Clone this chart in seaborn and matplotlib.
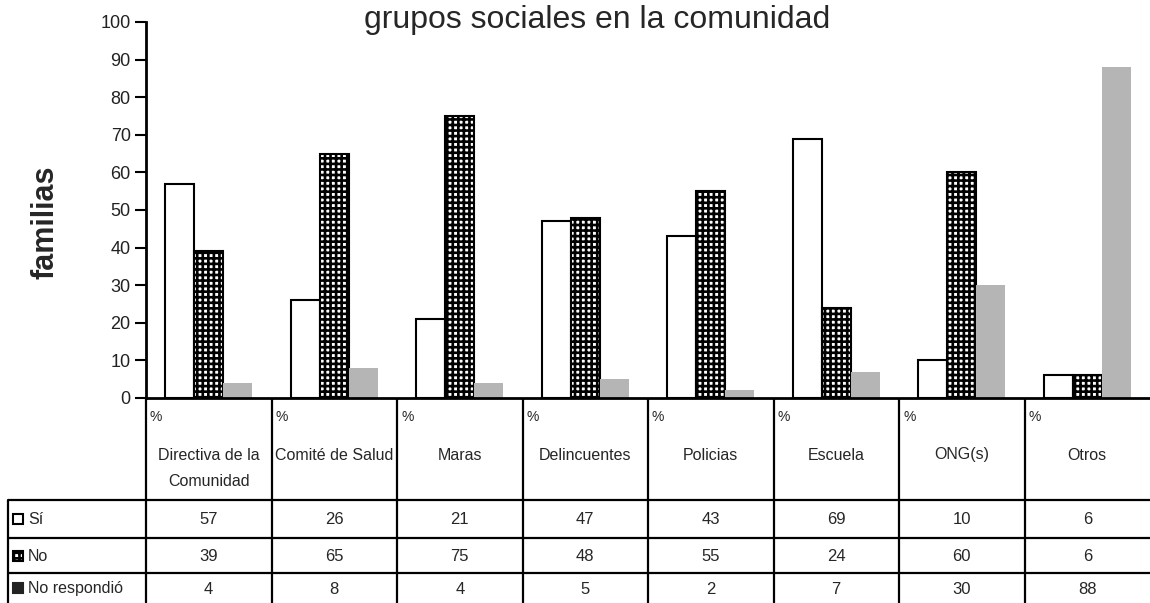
import matplotlib
matplotlib.use("Agg")
import numpy as np
import pandas as pd
import matplotlib.pyplot as plt
import seaborn as sns
from matplotlib.patches import Rectangle

# datos (porcentaje de familias)
grupos = ["Directiva de la\nComunidad", "Comité de Salud", "Maras", "Delincuentes",
          "Policias", "Escuela", "ONG(s)", "Otros"]
respuestas = ["Sí", "No", "No respondió"]
si = [57, 26, 21, 47, 43, 69, 10, 6]
no = [39, 65, 75, 48, 55, 24, 60, 6]
no_resp = [4, 8, 4, 5, 2, 7, 30, 88]
yticks = list(range(0, 101, 10))

df = pd.DataFrame({
    "grupo": grupos * 3,
    "respuesta": np.repeat(respuestas, len(grupos)),
    "pct": si + no + no_resp,
})

sns.set_style("white")
plt.rcParams["font.family"] = ["Liberation Sans", "DejaVu Sans"]
plt.rcParams["hatch.linewidth"] = 1.9

W, H = 1150, 603
fig = plt.figure(figsize=(W / 100, H / 100), dpi=100)
x0, y_top, y_base = 146, 22, 398
ax = fig.add_axes([x0 / W, 1 - y_base / H, (W - x0) / W, (y_base - y_top) / H])
ax.patch.set_alpha(0)

gris = "#b5b5b5"
sns.barplot(data=df, x="grupo", y="pct", hue="respuesta", order=grupos,
            hue_order=respuestas, palette=["white", "white", gris],
            width=0.69, gap=0, saturation=1, legend=False, ax=ax)

# estilos de cada serie
for bar in ax.containers[0]:
    bar.set_edgecolor("black")
    bar.set_linewidth(1.5)
for bar in ax.containers[1]:
    bar.set_edgecolor("black")
    bar.set_linewidth(1.5)
    bar.set_hatch("+++")
for bar in ax.containers[2]:
    bar.set_edgecolor("none")
    bar.set_linewidth(0)

ax.set_ylim(0, 100)
ax.set_xlim(-0.5, len(grupos) - 0.5)
ax.set_yticks(yticks)
ax.set_xticks([])
ax.set_xlabel("")
ax.set_ylabel("")
for s in ["top", "right"]:
    ax.spines[s].set_visible(False)
for s in ["left", "bottom"]:
    ax.spines[s].set_linewidth(2)
    ax.spines[s].set_color("black")
ax.tick_params(axis="y", left=True, direction="out", length=8, width=1.5,
               labelsize=13, pad=3, colors="black")
for t in ax.get_yticklabels():
    t.set_color("#222222")

fig.text(597 / W, 1 - 28 / H, "grupos sociales en la comunidad",
         ha="center", va="baseline", fontsize=23)
fig.text(45 / W, 1 - 222 / H, "familias", rotation=90, ha="center", va="center",
         fontsize=22, fontweight="bold")

# --- tabla de datos ---
axt = fig.add_axes([0, 0, 1, (H - y_base) / H])
axt.set_xlim(0, W)
axt.set_ylim(H, y_base)
axt.axis("off")

fig.canvas.draw()
bordes = [ax.transData.transform((i - 0.5, 0))[0] for i in range(len(grupos) + 1)]
bordes = [fig.transFigure.inverted().transform((b, 0))[0] * W for b in bordes]

lw = 1.6
filas_y = [500, 538, 573, H]
x_izq = 8
for yy in filas_y[:-1]:
    axt.plot([x_izq, W], [yy, yy], color="black", lw=lw, solid_capstyle="butt")
axt.plot([x_izq, x_izq], [filas_y[0], H], color="black", lw=lw)
for b in bordes[:-1]:
    axt.plot([b, b], [y_base, H], color="black", lw=lw)

for i, g in enumerate(grupos):
    izq, der = bordes[i], bordes[i + 1]
    cx = (izq + der) / 2
    axt.text(izq + 4, 417, "%", ha="left", va="center", fontsize=10)
    for k, linea in enumerate(g.split("\n")):
        axt.text(cx, 455 + 27 * k, linea, ha="center", va="center", fontsize=11.5)
    for serie, (ya, yb) in zip([si, no, no_resp], zip(filas_y[:-1], filas_y[1:])):
        axt.text(cx, (ya + yb) / 2 + 1, str(serie[i]), ha="center", va="center", fontsize=12)

estilos = [dict(facecolor="white", edgecolor="black"),
           dict(facecolor="white", edgecolor="black", hatch="+++"),
           dict(facecolor="#222222", edgecolor="#222222")]
for r, (ya, yb) in zip(respuestas, zip(filas_y[:-1], filas_y[1:])):
    cy = (ya + yb) / 2
    est = estilos[respuestas.index(r)]
    axt.add_patch(Rectangle((13, cy - 5), 10, 10, lw=1.5, **est))
    axt.text(28, cy + 1, r, ha="left", va="center", fontsize=11.5)

fig.savefig("out.png", dpi=100)
